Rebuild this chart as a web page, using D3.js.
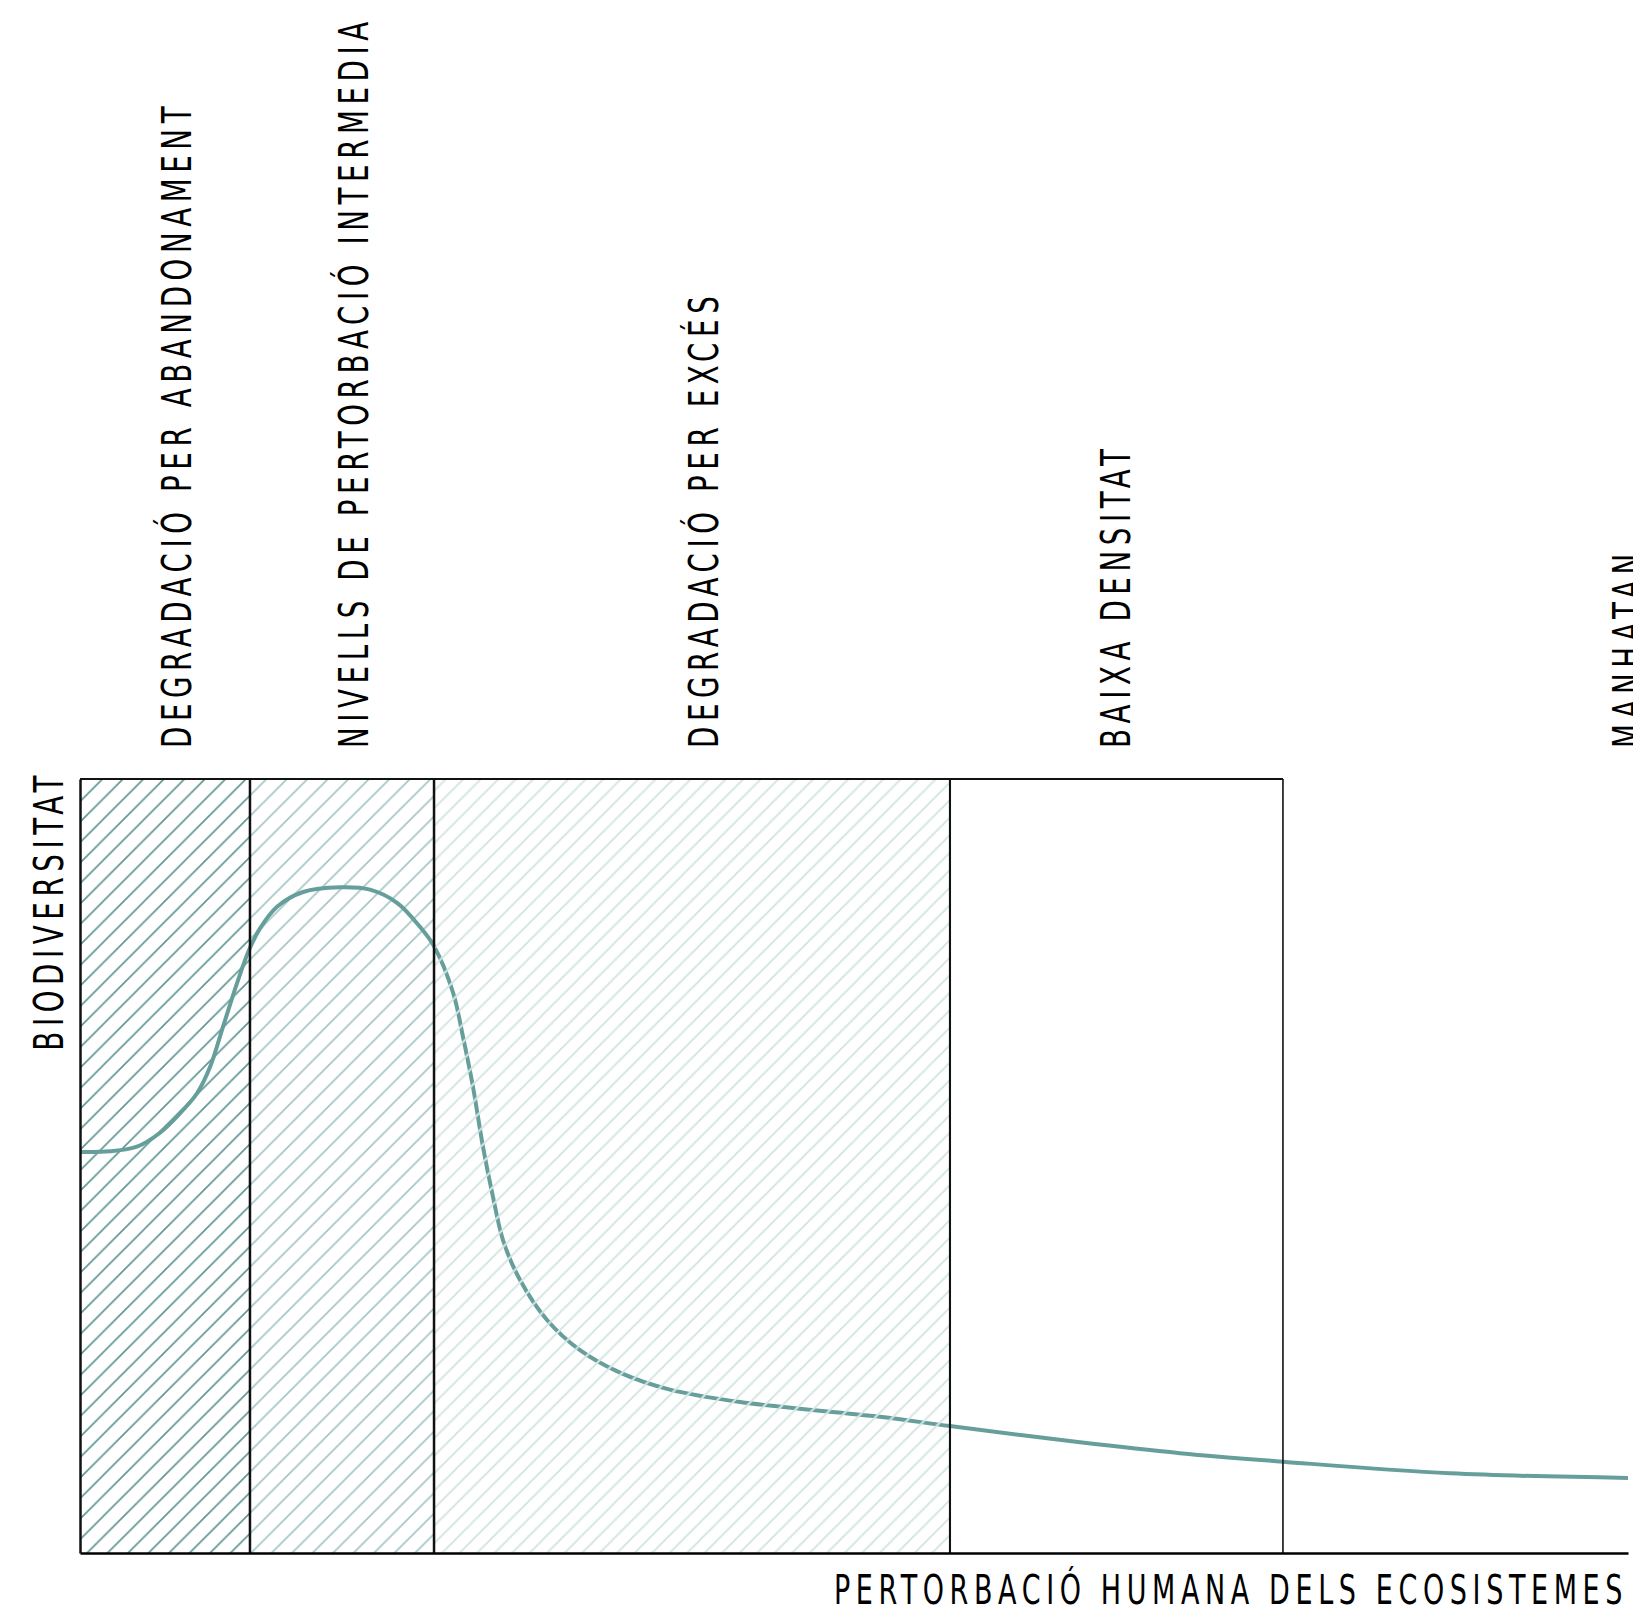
<!DOCTYPE html>
<html>
<head>
<meta charset="utf-8">
<script src="https://cdn.jsdelivr.net/npm/d3@7"></script>
<style>
  body { margin: 0; background: #fff; }
  text { font-family: "DejaVu Sans Condensed", "DejaVu Sans", sans-serif; font-stretch: condensed; fill: #000; }
</style>
</head>
<body>
<div id="chart"></div>
<script>
// regions along the disturbance axis (0..100)
const regionNames = ["DEGRADACIÓ PER ABANDONAMENT", "NIVELLS DE PERTORBACIÓ INTERMEDIA",
  "DEGRADACIÓ PER EXCÉS", "BAIXA DENSITAT", "MANHATAN"];
const regionBounds = [0, 10.98, 22.87, 56.2, 77.71, 100];
const labelPos = [7.2, 18.6, 41.2, 67.8, 100.9];

// biodiversity curve
const curveX = [0, 1.94, 3.68, 5.17, 6.46, 7.56, 8.40, 9.24, 10.14, 10.92, 11.63, 12.73, 14.41,
  16.80, 18.73, 20.48, 21.96, 22.87, 24.10, 24.74, 25.39, 26.03, 26.68, 27.33, 28.42, 30.17,
  32.30, 34.88, 38.11, 42.64, 51.68, 56.20, 64.60, 71.06, 77.71, 88.50, 100];
const curveY = [51.8, 51.9, 52.5, 54.3, 56.8, 59.4, 62.8, 68.0, 73.6, 77.9, 80.7, 83.5, 85.4,
  86.0, 85.7, 84.0, 80.9, 78.4, 72.4, 66.7, 60.2, 52.5, 46.0, 40.4, 35.3, 30.1,
  26.2, 23.3, 21.1, 19.5, 17.6, 16.4, 14.3, 12.9, 11.8, 10.3, 9.7];

const xTitle = "PERTORBACIÓ HUMANA DELS ECOSISTEMES";
const yTitle = "BIODIVERSITAT";

const W = 1633, H = 1612;
const margin = { top: 779, right: 5, bottom: 59, left: 80 };

const x = d3.scaleLinear().domain([0, 100]).range([margin.left, W - margin.right]);
const y = d3.scaleLinear().domain([0, 100]).range([H - margin.bottom, margin.top]);

// narrow technical lettering: squeeze glyphs, open up the spacing
const squeeze = 0.75, spacing = 7.5, fontSize = 41;

const svg = d3.select("#chart").append("svg")
  .attr("width", W).attr("height", H);

// hatch patterns, one per shaded region
const hatch = [
  { color: "#5f9794", size: 20.5, width: 1.7 },
  { color: "#a5c6c4", size: 20.5, width: 1.7 },
  { color: "#d5e6e4", size: 17.5, width: 1.9 }
];
const defs = svg.append("defs");
hatch.forEach(function (h, i) {
  const s = h.size;
  defs.append("pattern")
    .attr("id", "hatch" + i)
    .attr("patternUnits", "userSpaceOnUse")
    .attr("width", s).attr("height", s)
    .append("path")
    .attr("d", `M0,${s}L${s},0M${-s / 4},${s / 4}L${s / 4},${-s / 4}M${3 * s / 4},${5 * s / 4}L${5 * s / 4},${3 * s / 4}`)
    .attr("stroke", h.color)
    .attr("stroke-width", h.width)
    .attr("fill", "none");
});

const regions = regionNames.map((name, i) => ({ name: name, x0: regionBounds[i], x1: regionBounds[i + 1], i: i }));

function drawHatch(sel) {
  sel.append("rect")
    .attr("x", d => x(d.x0))
    .attr("width", d => x(d.x1) - x(d.x0))
    .attr("y", y(100))
    .attr("height", y(0) - y(100))
    .attr("fill", d => "url(#hatch" + d.i + ")");
}

// first two hatches sit under the curve
svg.append("g").selectAll("g")
  .data(regions.filter(d => d.i < 2))
  .enter().append("g")
  .call(drawHatch);

// the curve
const line = d3.line()
  .x(d => x(d[0]))
  .y(d => y(d[1]))
  .curve(d3.curveCatmullRom.alpha(0.5));

svg.append("path")
  .datum(curveX.map((v, i) => [v, curveY[i]]))
  .attr("fill", "none")
  .attr("stroke", "#669e9c")
  .attr("stroke-width", 4)
  .attr("d", line);

// light hatch drawn on top (cuts the curve)
svg.append("g").selectAll("g")
  .data(regions.filter(d => d.i == 2))
  .enter().append("g")
  .call(drawHatch);

// frame
const boxEnd = regionBounds[4];
svg.append("line")
  .attr("x1", x(0)).attr("x2", x(boxEnd))
  .attr("y1", y(100)).attr("y2", y(100))
  .attr("stroke", "#111").attr("stroke-width", 1.8);

const dividerWidth = [2.5, 2.5, 2.1, 1.6];
svg.append("g").selectAll("line")
  .data(regionBounds.slice(1, 5))
  .enter().append("line")
  .attr("x1", d => x(d)).attr("x2", d => x(d))
  .attr("y1", y(100)).attr("y2", y(0))
  .attr("stroke", "#111")
  .attr("stroke-width", (d, i) => dividerWidth[i]);

const xAxis = svg.append("g")
  .attr("transform", `translate(0,${y(0)})`)
  .call(d3.axisBottom(x).tickValues([]).tickSizeOuter(0));
xAxis.select(".domain").attr("stroke", "#000").attr("stroke-width", 2.5);

const yAxis = svg.append("g")
  .attr("transform", `translate(${x(0)},0)`)
  .call(d3.axisLeft(y).tickValues([]).tickSizeOuter(0));
yAxis.select(".domain").attr("stroke", "#111").attr("stroke-width", 2.5);

// region labels
svg.append("g").selectAll("text")
  .data(regions)
  .enter().append("text")
  .attr("transform", d => `translate(${x(labelPos[d.i])},${y(100) - 31}) rotate(-90) scale(${squeeze},1)`)
  .attr("text-anchor", "start")
  .attr("font-size", fontSize)
  .attr("letter-spacing", spacing)
  .text(d => d.name);

// axis titles
svg.append("text")
  .attr("transform", `translate(63,${y(100) - 9}) rotate(-90) scale(${squeeze},1)`)
  .attr("text-anchor", "end")
  .attr("font-size", fontSize)
  .attr("letter-spacing", spacing)
  .text(yTitle);

svg.append("text")
  .attr("transform", `translate(${x(100)},${y(0) + 51}) scale(${squeeze},1)`)
  .attr("text-anchor", "end")
  .attr("font-size", 40)
  .attr("letter-spacing", spacing)
  .text(xTitle);
</script>
</body>
</html>
